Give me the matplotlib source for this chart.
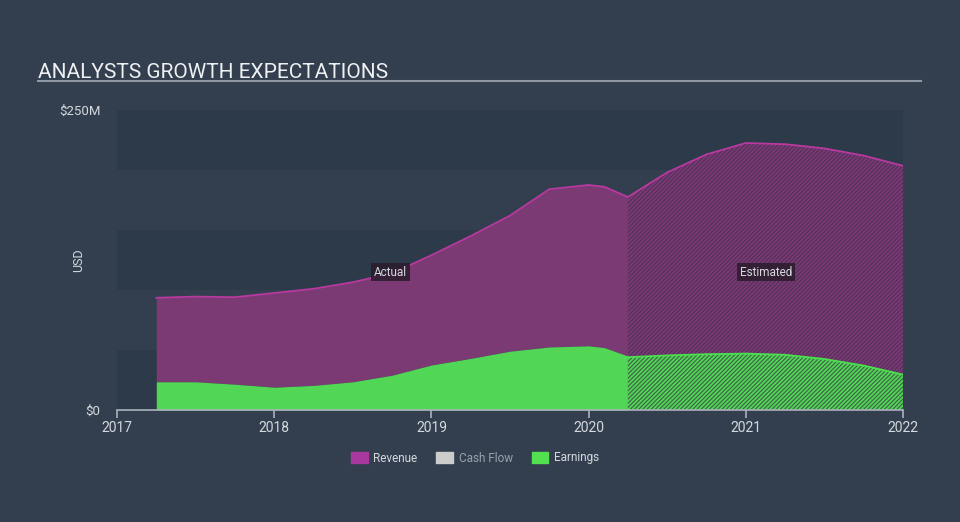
import matplotlib.pyplot as plt
from matplotlib.lines import Line2D
from matplotlib.patches import Patch

plt.rcParams["font.family"] = ["Roboto", "DejaVu Sans"]
plt.rcParams["hatch.linewidth"] = 1.3

# values in $M, x in decimal years
actual_x = [2017.25, 2017.5, 2017.75, 2018.0, 2018.25, 2018.5, 2018.75,
            2019.0, 2019.25, 2019.5, 2019.75, 2020.0, 2020.1, 2020.25]
actual_revenue = [93.5, 94.5, 94, 97.5, 101, 106.5, 114,
                  129, 145, 162, 184, 187.5, 186, 177.5]
actual_earnings = [23.5, 23.5, 21.5, 19, 20.5, 23.5, 29,
                   37.5, 43, 49, 52.5, 53.5, 52, 45]

est_x = [2020.25, 2020.5, 2020.75, 2021.0, 2021.25, 2021.5, 2021.75, 2022.0]
est_revenue = [177.5, 198, 213, 222.5, 221.5, 218, 212, 203.5]
est_earnings = [44, 45.5, 46.5, 47, 46, 42.5, 37, 29.5]

years = [2017, 2018, 2019, 2020, 2021, 2022]

bg = "#333f4f"
band = "#2d3a49"
rev_fill = "#7b3a74"
rev_line = "#b8399f"
earn_fill = "#52d655"
earn_line = "#4be04e"
text_c = "#d5d9de"

fig = plt.figure(figsize=(9.6, 5.22), dpi=100, facecolor=bg)
ax = fig.add_axes([117 / 960, 1 - 410 / 522, 786 / 960, 300 / 522])
ax.set_facecolor(bg)

for lo in (0, 100, 200):
    ax.axhspan(lo, lo + 50, color=band, lw=0, zorder=0)

# actual
ax.fill_between(actual_x, actual_earnings, actual_revenue, color=rev_fill, lw=0, zorder=2)
ax.plot(actual_x, actual_revenue, color=rev_line, lw=1.3, zorder=3)
ax.fill_between(actual_x, 0, actual_earnings, color=earn_fill, lw=0, zorder=2)

# estimated (hatched)
ax.fill_between(est_x, est_earnings, est_revenue, facecolor="#52305a",
                edgecolor=rev_fill, hatch="////////", lw=0, zorder=2)
ax.plot(est_x, est_revenue, color=rev_line, lw=1.3, zorder=3)
ax.fill_between(est_x, 0, est_earnings, facecolor="#3e6148",
                edgecolor=earn_fill, hatch="////////", lw=0, zorder=2)
ax.plot(est_x, est_earnings, color=earn_line, lw=1.3, zorder=3)

box = dict(boxstyle="square,pad=0.25", facecolor="#2a1c2b", edgecolor="none", alpha=0.85)
ax.text(2018.74, 115, "Actual", color=text_c, fontsize=8.5, ha="center", va="center", bbox=box, zorder=5)
ax.text(2021.13, 115, "Estimated", color=text_c, fontsize=8.5, ha="center", va="center", bbox=box, zorder=5)

ax.set_xlim(2017, 2022)
ax.set_ylim(0, 250)
ax.set_xticks(years)
ax.set_xticklabels([str(y) for y in years])
ax.set_yticks([0, 250])
ax.set_yticklabels(["$0", "$250M"])
for s in ("top", "right", "left"):
    ax.spines[s].set_visible(False)
ax.spines["bottom"].set_color("#aab2bc")
ax.spines["bottom"].set_linewidth(1.2)
ax.tick_params(axis="x", colors="#aab2bc", labelcolor=text_c, length=6, width=1.2, labelsize=10, pad=2)
ax.tick_params(axis="y", length=0, labelcolor=text_c, labelsize=9.5, pad=12)
ax.set_ylabel("USD", color=text_c, fontsize=9)
ax.yaxis.set_label_coords(-0.041, 0.5)

fig.text(38 / 960, 1 - 78 / 522, "ANALYSTS GROWTH EXPECTATIONS", color="#eef0f2", fontsize=15, ha="left", va="baseline")
fig.add_artist(Line2D([38 / 960, 921 / 960], [1 - 81 / 522] * 2, color="#8e97a2", lw=1.5))

handles = [Patch(color="#a8389c"), Patch(color="#cccccc"), Patch(color="#52e051")]
leg = fig.legend(handles, ["Revenue", "Cash Flow", "Earnings"], loc="center", ncol=3,
                 bbox_to_anchor=(0.495, 1 - 458 / 522), frameon=False, fontsize=8.5,
                 handlelength=1.4, handleheight=1.1, columnspacing=1.6, handletextpad=0.5)
for t, c in zip(leg.get_texts(), [text_c, "#9aa2ab", text_c]):
    t.set_color(c)

fig.savefig("out.png", dpi=100, facecolor=bg)
